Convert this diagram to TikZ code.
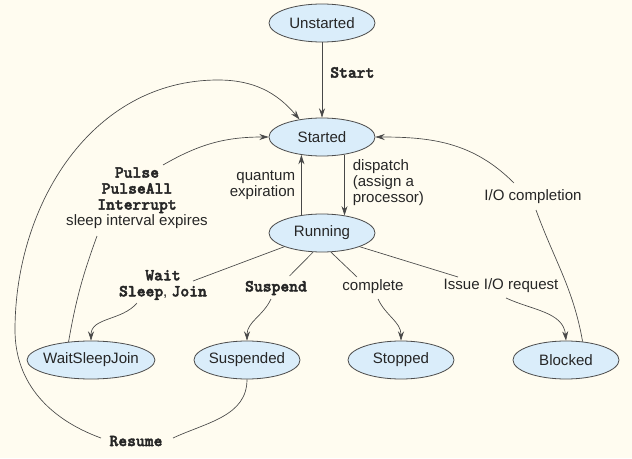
\documentclass[tikz,border=0pt]{standalone}
\usepackage{fontspec}
\setmainfont{Liberation Sans}
\newfontfamily\cmdfont{lmmonolt10-bold.otf}[FakeBold=2.5]
\usetikzlibrary{shapes.geometric,arrows.meta}
\definecolor{bgcream}{RGB}{255,252,240}
\definecolor{statefill}{RGB}{218,237,250}
\definecolor{lineclr}{RGB}{72,72,72}
\newcommand{\cmd}[1]{{\fontsize{12.6}{12}\cmdfont #1}}

\begin{document}
\begin{tikzpicture}[x=.75pt,y=.75pt,->,>={Stealth[length=7pt,width=4.5pt]},
  state/.style={ellipse,draw=gray!60!black,fill=statefill,line width=.6pt,
    minimum width=79.5pt,minimum height=28.5pt,inner xsep=-2pt,inner ysep=0pt,
    text=black!85,font=\fontsize{11.3}{13}\selectfont},
  lbl/.style={inner sep=0pt,align=center,text=black!85,
    font=\fontsize{11.3}{12}\selectfont},
  conn/.style={draw=lineclr,line width=.5pt},
  every edge/.style={conn}]
   \fill[bgcream,-] (0,0) rectangle (632,458);
   \useasboundingbox (0,0) rectangle (632,458);
   \node[state] (unst) at (322,435) {Unstarted};
   \node[state] (strt) at (322,321) {Started};
   \node[state] (run) at (322,225) {Running};
   \node[state,minimum width=91.5pt] (wsj) at (91,98) {WaitSleepJoin};
   \node[state] (susp) at (247,98) {Suspended};
   \node[state] (stop) at (401,98) {Stopped};
   \node[state] (blk) at (566,98) {Blocked};
   \node[lbl] (lpulse) at (137,260) {\cmd{Pulse}\\\cmd{PulseAll}\\\cmd{Interrupt}\\sleep interval expires};
   \node[lbl] (lwait) at (163,173) {\cmd{Wait}\\\cmd{Sleep}, \cmd{Join}};
   \node[lbl] (lsusp) at (276,170) {\cmd{Suspend}};
   \node[lbl] (lcompl) at (373,171) {complete};
   \node[lbl] (lissue) at (501,172) {Issue I/O request};
   \node[lbl] (lio) at (533,261) {I/O completion};
   \node[lbl] (lresume) at (136,17) {\cmd{Resume}};
   \coordinate (rl) at (15,128);
   \coordinate (rt) at (218,378);
   \path (unst) edge node[lbl,right=6pt,pos=.4]{\cmd{Start}} (strt);
   \path (run.139) edge node[lbl,left=4.5pt,align=right]{quantum\\expiration} (strt.221);
   \path (strt.322) edge node[lbl,right=6pt,align=left,pos=.46]{dispatch\\(assign a\\processor)} (run.38);
   \path (run.200) edge[-] ([shift={(30,4)}]lwait.center);
   \path ([shift={(-26,-18)}]lwait.center) edge[out=-130,in=90] (wsj.north);
   \path (run.245) edge[-] ([shift={(13.5,12)}]lsusp.center);
   \path ([shift={(-5,-11)}]lsusp.center) edge[out=-115,in=90] (susp.north);
   \path (run.295) edge[-] ([shift={(-16,10)}]lcompl.center);
   \path ([shift={(5,-12)}]lcompl.center) edge[out=-65,in=90] (stop.north);
   \path (run.340) edge[-] ([shift={(-43,9)}]lissue.center);
   \path ([shift={(5,-12)}]lissue.center) edge[out=-25,in=95] (blk.north);
   \path (blk.48) edge[-,out=100,in=-70] ([shift={(3,-13)}]lio.center);
   \path ([shift={(-19,14)}]lio.center) edge[out=135,in=0] (strt.east);
   \path (wsj.141) edge[-,out=80,in=-110] ([shift={(-40,-38)}]lpulse.center);
   \path ([shift={(26,33)}]lpulse.center) edge[out=30,in=180] (strt.west);
   \path (susp.south) edge[-,out=-90,in=25] ([shift={(37,3)}]lresume.center);
   \draw[conn] ([shift={(-35,3)}]lresume.center) to[out=160,in=-90] (rl)
      to[out=90,in=180] (rt) to[out=0,in=130] (strt.142);
\end{tikzpicture}
\end{document}
